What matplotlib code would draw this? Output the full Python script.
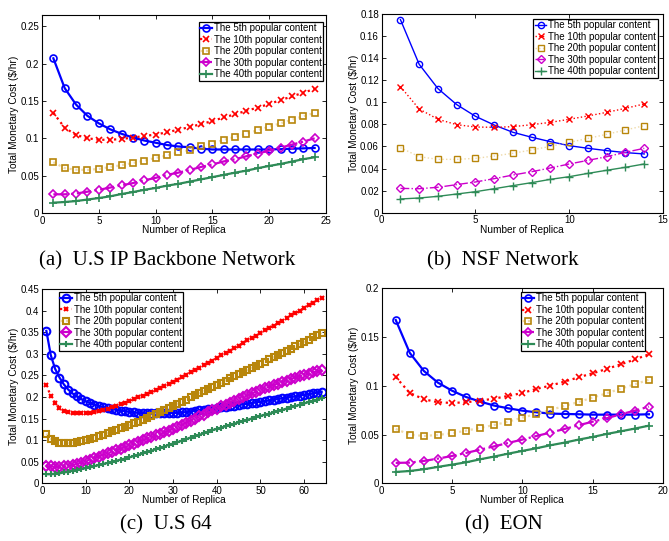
import numpy as np
import matplotlib
matplotlib.use('Agg')
import matplotlib.pyplot as plt
from matplotlib.ticker import FuncFormatter

# ---- data ----
labels = ['The 5th popular content', 'The 10th popular content', 'The 20th popular content',
          'The 30th popular content', 'The 40th popular content']

# (a) U.S IP Backbone Network
xa = np.arange(1, 25)
a_5th = [0.207, 0.167, 0.145, 0.130, 0.120, 0.112, 0.106, 0.101, 0.097, 0.094, 0.091, 0.089,
         0.088, 0.086, 0.085, 0.085, 0.085, 0.085, 0.085, 0.085, 0.0855, 0.086, 0.0865, 0.087]
a_10th = [0.134, 0.114, 0.1045, 0.100, 0.098, 0.098, 0.099, 0.101, 0.103, 0.105, 0.108, 0.1115,
          0.115, 0.119, 0.123, 0.128, 0.132, 0.137, 0.141, 0.146, 0.151, 0.156, 0.161, 0.166]
a_20th = [0.068, 0.060, 0.058, 0.0576, 0.059, 0.0616, 0.064, 0.067, 0.070, 0.0737, 0.077, 0.081,
          0.0844, 0.089, 0.093, 0.098, 0.102, 0.106, 0.111, 0.1156, 0.120, 0.125, 0.1295, 0.134]
a_30th = [0.025, 0.025, 0.026, 0.0285, 0.031, 0.034, 0.037, 0.040, 0.0437, 0.047, 0.051, 0.054,
          0.0576, 0.0616, 0.065, 0.069, 0.072, 0.076, 0.0795, 0.0835, 0.0875, 0.0915, 0.0955, 0.100]
a_40th = [0.0138, 0.0147, 0.016, 0.018, 0.020, 0.0223, 0.0254, 0.028, 0.031, 0.0335, 0.0366, 0.039,
          0.042, 0.045, 0.048, 0.051, 0.054, 0.0567, 0.060, 0.063, 0.0656, 0.0688, 0.072, 0.0746]

# (b) NSF Network
xb = np.arange(1, 15)
b_5th = [0.1749, 0.1344, 0.1124, 0.0979, 0.0873, 0.0794, 0.0728, 0.0683, 0.0643, 0.0607, 0.0583,
         0.0562, 0.0544, 0.0532]
b_10th = [0.1142, 0.0939, 0.0846, 0.0797, 0.0776, 0.0773, 0.0779, 0.0797, 0.0818, 0.0846, 0.0876,
          0.0909, 0.0945, 0.0985]
b_20th = [0.0589, 0.0507, 0.0483, 0.0483, 0.0492, 0.0513, 0.0538, 0.0568, 0.0601, 0.0637, 0.0673,
          0.0710, 0.0749, 0.0788]
b_30th = [0.0220, 0.0217, 0.0230, 0.0254, 0.0278, 0.0308, 0.0341, 0.0371, 0.0405, 0.0441, 0.0474,
          0.0507, 0.0547, 0.0583]
b_40th = [0.0124, 0.0133, 0.0148, 0.0169, 0.0190, 0.0217, 0.0245, 0.0272, 0.0302, 0.0326, 0.0356,
          0.0384, 0.0411, 0.0441]

# (c) U.S 64
xc = np.arange(1, 65)
c_5th = [0.353, 0.297, 0.265, 0.245, 0.229, 0.217, 0.208, 0.201, 0.195, 0.190, 0.186, 0.182, 0.179,
         0.176, 0.174, 0.172, 0.170, 0.168, 0.167, 0.165, 0.164, 0.163, 0.163, 0.162, 0.162, 0.162,
         0.162, 0.162, 0.162, 0.163, 0.163, 0.164, 0.165, 0.166, 0.168, 0.169, 0.170, 0.172, 0.173,
         0.174, 0.176, 0.177, 0.179, 0.180, 0.181, 0.183, 0.184, 0.186, 0.187, 0.189, 0.190, 0.192,
         0.194, 0.195, 0.197, 0.198, 0.200, 0.201, 0.203, 0.205, 0.206, 0.208, 0.210, 0.212]
c_10th = [0.228, 0.202, 0.187, 0.175, 0.168, 0.165, 0.163, 0.162, 0.162, 0.162, 0.163, 0.165, 0.167,
          0.170, 0.173, 0.176, 0.180, 0.183, 0.187, 0.191, 0.195, 0.199, 0.203, 0.207, 0.211, 0.216,
          0.220, 0.225, 0.230, 0.235, 0.240, 0.246, 0.251, 0.257, 0.262, 0.268, 0.273, 0.279, 0.284,
          0.290, 0.296, 0.302, 0.307, 0.313, 0.319, 0.325, 0.331, 0.336, 0.342, 0.348, 0.354, 0.360,
          0.365, 0.371, 0.377, 0.383, 0.389, 0.394, 0.400, 0.406, 0.412, 0.418, 0.424, 0.430]
c_20th = [0.115, 0.102, 0.097, 0.094, 0.093, 0.093, 0.094, 0.095, 0.097, 0.100, 0.103, 0.106, 0.109,
          0.112, 0.116, 0.120, 0.123, 0.127, 0.131, 0.135, 0.139, 0.143, 0.147, 0.152, 0.156, 0.161,
          0.165, 0.170, 0.174, 0.179, 0.184, 0.189, 0.194, 0.199, 0.204, 0.209, 0.213, 0.218, 0.223,
          0.228, 0.233, 0.238, 0.243, 0.248, 0.252, 0.257, 0.262, 0.267, 0.272, 0.277, 0.282, 0.287,
          0.292, 0.297, 0.302, 0.307, 0.312, 0.317, 0.322, 0.327, 0.332, 0.338, 0.343, 0.349]
c_30th = [0.040, 0.039, 0.038, 0.038, 0.039, 0.040, 0.042, 0.045, 0.048, 0.052, 0.055, 0.059, 0.062,
          0.066, 0.069, 0.073, 0.077, 0.080, 0.084, 0.088, 0.092, 0.096, 0.100, 0.104, 0.107, 0.111,
          0.114, 0.118, 0.122, 0.126, 0.130, 0.135, 0.140, 0.145, 0.150, 0.155, 0.159, 0.164, 0.169,
          0.173, 0.178, 0.182, 0.187, 0.191, 0.196, 0.200, 0.204, 0.208, 0.212, 0.216, 0.220, 0.224,
          0.228, 0.231, 0.235, 0.238, 0.242, 0.245, 0.248, 0.251, 0.254, 0.257, 0.259, 0.262]
c_40th = [0.021, 0.021, 0.022, 0.023, 0.025, 0.027, 0.029, 0.031, 0.033, 0.035, 0.037, 0.040, 0.042,
          0.045, 0.047, 0.050, 0.052, 0.055, 0.057, 0.060, 0.063, 0.066, 0.069, 0.072, 0.075, 0.079,
          0.082, 0.085, 0.089, 0.092, 0.095, 0.099, 0.102, 0.106, 0.109, 0.112, 0.116, 0.119, 0.123,
          0.126, 0.129, 0.132, 0.135, 0.138, 0.141, 0.144, 0.147, 0.150, 0.153, 0.156, 0.159, 0.161,
          0.164, 0.167, 0.170, 0.173, 0.176, 0.179, 0.182, 0.185, 0.188, 0.191, 0.194, 0.197]

# (d) EON
xd = np.arange(1, 20)
d_5th = [0.1675, 0.1337, 0.1152, 0.1032, 0.095, 0.0885, 0.0838, 0.0797, 0.0769, 0.0745, 0.0728,
         0.0715, 0.0711, 0.0708, 0.0704, 0.0704, 0.0704, 0.0704, 0.0708]
d_10th = [0.109, 0.0926, 0.0862, 0.0831, 0.0824, 0.0831, 0.0848, 0.0868, 0.0896, 0.0926, 0.0968,
          0.1002, 0.1043, 0.1087, 0.1128, 0.1173, 0.122, 0.127, 0.1323]
d_20th = [0.0557, 0.0499, 0.0485, 0.0496, 0.0513, 0.054, 0.0568, 0.0598, 0.0632, 0.0673, 0.0711,
          0.0752, 0.0793, 0.0834, 0.0879, 0.0923, 0.0971, 0.1015, 0.1063]
d_30th = [0.0209, 0.0212, 0.0229, 0.0253, 0.028, 0.0311, 0.0345, 0.0379, 0.0414, 0.0448, 0.0485,
          0.052, 0.0557, 0.0595, 0.0632, 0.0667, 0.0708, 0.0745, 0.0786]
d_40th = [0.0116, 0.0126, 0.0144, 0.0168, 0.0191, 0.0215, 0.0246, 0.0274, 0.0304, 0.0332, 0.0359,
          0.039, 0.0417, 0.0448, 0.0475, 0.0506, 0.0533, 0.0561, 0.0591]

# ---- styles ----
plt.rcParams['font.family'] = ['Liberation Sans', 'DejaVu Sans']
plt.rcParams['mathtext.default'] = 'regular'

colors = ['#0000ff', '#ff0000', '#b8860b', '#cc00cc', '#2e8b57']
line_colors = ['#0000ff', '#ff0000', '#eed9a8', '#cc00cc', '#2e8b57']
markers = ['o', 'x', 's', 'D', '+']
lstyles = ['-', ':', ':', '-.', '-']

fmt = FuncFormatter(lambda v, p: '%g' % round(v, 4))


def panel(ax, x, series, xlim, ylim, xstep, ystep, lw, msizes, mew, leg_loc, leg_anchor):
    for i, y in enumerate(series):
        ax.plot(x, y, linestyle=lstyles[i], color=line_colors[i], linewidth=lw,
                marker=markers[i], markersize=msizes[i], markeredgecolor=colors[i],
                markerfacecolor='none', markeredgewidth=mew, label=labels[i])
    ax.set_xlim(xlim)
    ax.set_ylim(ylim)
    ax.set_xticks(np.arange(0, xlim[1] + 0.01, xstep))
    ax.set_yticks(np.arange(0, ylim[1] + 1e-9, ystep))
    ax.yaxis.set_major_formatter(fmt)
    ax.xaxis.set_major_formatter(fmt)
    ax.tick_params(direction='in', top=True, right=True, labelsize=7, length=3, width=0.6, pad=2)
    for s in ax.spines.values():
        s.set_linewidth(0.8)
    ax.set_xlabel('Number of Replica', fontsize=7.3, labelpad=-0.5)
    ax.set_ylabel('Total Monetary Cost (\\$/hr)', fontsize=7.3, labelpad=1)
    leg = ax.legend(loc=leg_loc, bbox_to_anchor=leg_anchor, fontsize=7, frameon=True,
                    fancybox=False, edgecolor='black', framealpha=1, borderaxespad=0,
                    borderpad=0.15, labelspacing=0.15, handlelength=1.2, handletextpad=0.2)
    leg.get_frame().set_linewidth(0.9)


fig = plt.figure(figsize=(6.69, 5.41), dpi=100)

ax1 = fig.add_axes([0.0628, 0.6063, 0.4245, 0.366])
panel(ax1, xa, [a_5th, a_10th, a_20th, a_30th, a_40th], (0, 25), (0, 0.265), 5, 0.05,
      1.6, [5, 4.5, 3.8, 4.5, 6], 1.2, 'upper right', (0.99, 0.965))

ax2 = fig.add_axes([0.5705, 0.6069, 0.4205, 0.3673])
panel(ax2, xb, [b_5th, b_10th, b_20th, b_30th, b_40th], (0, 15), (0, 0.18), 5, 0.02,
      1.0, [4.5, 4, 3.8, 4.2, 6], 1.0, 'upper right', (0.981, 0.975))

ax3 = fig.add_axes([0.0628, 0.1067, 0.4245, 0.3591])
panel(ax3, xc, [c_5th, c_10th, c_20th, c_30th, c_40th], (0, 65), (0, 0.45), 10, 0.05,
      1.6, [5.5, 3, 4.5, 5, 4.5], 1.5, 'upper left', (0.059, 0.985))

ax4 = fig.add_axes([0.5705, 0.1067, 0.4205, 0.3604])
panel(ax4, xd, [d_5th, d_10th, d_20th, d_30th, d_40th], (0, 20), (0, 0.2), 5, 0.05,
      1.6, [5, 4.5, 3.8, 4.5, 6], 1.2, 'upper right', (0.936, 0.981))

# captions
cap = dict(fontsize=15, family=['Liberation Serif', 'DejaVu Serif'], ha='center', va='center')
fig.text(167 / 669, 1 - 261 / 541, '(a)  U.S IP Backbone Network', **cap)
fig.text(503 / 669, 1 - 261 / 541, '(b)  NSF Network', **cap)
fig.text(166 / 669, 1 - 525 / 541, '(c)  U.S 64', **cap)
fig.text(504 / 669, 1 - 525 / 541, '(d)  EON', **cap)

fig.savefig('out.png', dpi=100)
